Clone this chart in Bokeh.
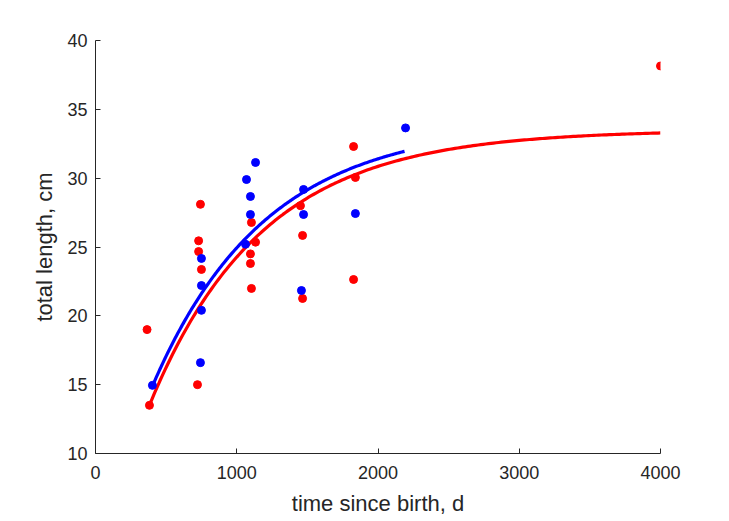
import numpy as np
from bokeh.plotting import figure
from bokeh.models import Range1d, FixedTicker
from bokeh.embed import file_html
from bokeh.resources import INLINE

# observed data (time since birth in days, total length in cm)
red_t = [365, 382, 722, 743, 730, 730, 750, 1104, 1133, 1097, 1097, 1104,
         1827, 1840, 1451, 1466, 1827, 1466, 4000]
red_L = [19.0, 13.5, 15.0, 28.1, 25.45, 24.67, 23.37, 26.78, 25.35, 24.5,
         23.8, 21.99, 32.3, 30.05, 28.0, 25.84, 22.64, 21.26, 38.15]
blue_t = [403, 743, 750, 750, 750, 1062, 1097, 1097, 1069, 1133, 1473, 1473,
          1840, 1458, 2195]
blue_L = [14.95, 16.6, 20.4, 22.2, 24.17, 25.2, 27.36, 28.67, 29.9, 31.14,
          29.18, 27.36, 27.43, 21.84, 33.65]

# von Bertalanffy growth fits: Linf, k (1/d), t0 (d), start, end
red_fit = [33.5, 0.00125, -31.0, 382, 4000]
blue_fit = [34.0, 0.00125, -58.0, 403, 2188]

x_ticks = [0, 1000, 2000, 3000, 4000]
y_ticks = [10, 15, 20, 25, 30, 35, 40]


def vb_curve(fit):
    linf, k, t0, a, b = fit
    t = np.linspace(a, b, 200)
    return t, linf * (1 - np.exp(-k * (t - t0)))


p = figure(width=729, height=521, output_backend="svg", toolbar_location=None,
           x_range=Range1d(0, 4000), y_range=Range1d(10, 40),
           min_border_left=95, min_border_right=69, min_border_top=40,
           min_border_bottom=68)
p.outline_line_color = None
p.xgrid.visible = False
p.ygrid.visible = False
p.background_fill_color = "white"
p.border_fill_color = "white"

rt, rL = vb_curve(red_fit)
bt, bL = vb_curve(blue_fit)
p.line(rt, rL, line_color="#FF0000", line_width=3.2)
p.line(bt, bL, line_color="#0000FF", line_width=3.2)
p.scatter(red_t, red_L, size=8, fill_color="#FF0000", line_color="#FF0000")
p.scatter(blue_t, blue_L, size=8, fill_color="#0000FF", line_color="#0000FF")

for ax in (p.xaxis[0], p.yaxis[0]):
    ax.axis_line_color = "#262626"
    ax.axis_line_width = 1
    ax.major_tick_line_color = "#262626"
    ax.major_tick_in = 5
    ax.major_tick_out = 0
    ax.minor_tick_line_color = None
    ax.major_label_text_font = "Liberation Sans"
    ax.major_label_text_font_size = "18px"
    ax.major_label_text_color = "#262626"
    ax.axis_label_text_font = "Liberation Sans"
    ax.axis_label_text_font_size = "22px"
    ax.axis_label_text_font_style = "normal"
    ax.axis_label_text_color = "#262626"

p.xaxis.ticker = FixedTicker(ticks=x_ticks)
p.yaxis.ticker = FixedTicker(ticks=y_ticks)
p.xaxis.axis_label = "time since birth, d"
p.yaxis.axis_label = "total length, cm"
p.xaxis.major_label_standoff = 12
p.xaxis.axis_label_standoff = 9
p.yaxis.major_label_standoff = 8
p.yaxis.axis_label_standoff = 7

open("out.html", "w").write(file_html(p, INLINE))
